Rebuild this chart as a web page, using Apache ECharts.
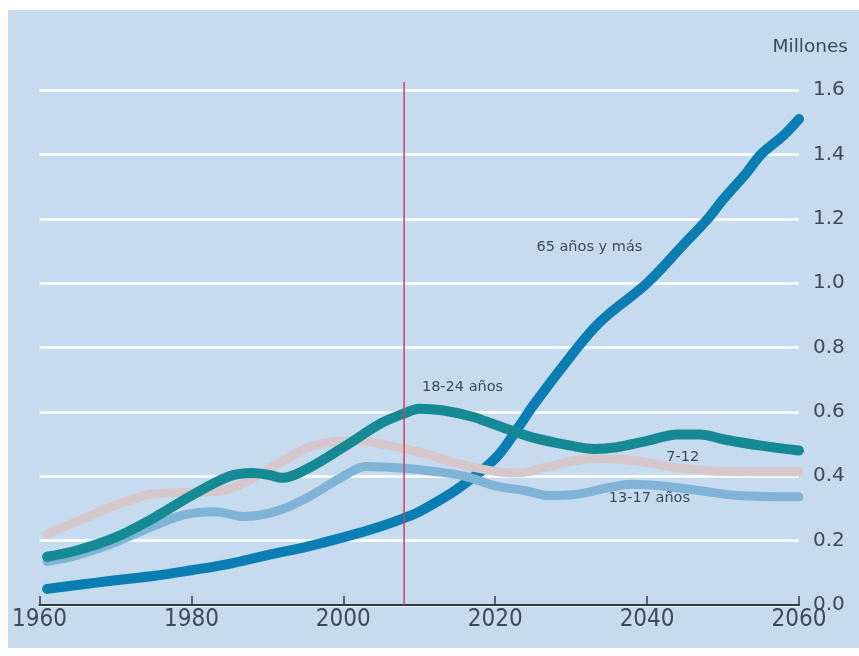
<!DOCTYPE html>
<html>
<head>
<meta charset="utf-8">
<script src="https://cdn.jsdelivr.net/npm/echarts@6/dist/echarts.min.js"></script>
<style>
html,body{margin:0;padding:0;background:#ffffff;}
#chart{width:859px;height:656px;}
</style>
</head>
<body>
<div id="chart"></div>
<script>
// Data (millions)
const xTicks = [1960, 1980, 2000, 2020, 2040, 2060];
const yTicks = [0.0, 0.2, 0.4, 0.6, 0.8, 1.0, 1.2, 1.4, 1.6];
const markerYear = 2008;
const markerTop = 1.625;

const years65 = [1961, 1965, 1970, 1975, 1980, 1985, 1990, 1995, 2000, 2005, 2008, 2010, 2015, 2020, 2023, 2025, 2030, 2033, 2035, 2040, 2045, 2048, 2050, 2053, 2055, 2058, 2060];
const vals65  = [0.05, 0.062, 0.077, 0.09, 0.108, 0.128, 0.155, 0.18, 0.21, 0.245, 0.27, 0.29, 0.36, 0.455, 0.55, 0.62, 0.775, 0.86, 0.905, 1.0, 1.125, 1.2, 1.26, 1.34, 1.40, 1.46, 1.51];

const years1824 = [1961, 1965, 1970, 1975, 1980, 1985, 1988, 1990, 1992, 1995, 2000, 2005, 2008, 2010, 2013, 2017, 2020, 2025, 2030, 2033, 2036, 2040, 2044, 2047, 2050, 2055, 2060];
const vals1824  = [0.15, 0.17, 0.21, 0.27, 0.34, 0.40, 0.41, 0.405, 0.395, 0.42, 0.49, 0.565, 0.595, 0.61, 0.605, 0.585, 0.56, 0.52, 0.495, 0.485, 0.49, 0.51, 0.53, 0.53, 0.515, 0.495, 0.48];

const years712 = [1961, 1965, 1970, 1975, 1980, 1985, 1990, 1995, 1998, 2002, 2006, 2010, 2015, 2020, 2023, 2027, 2033, 2038, 2043, 2047, 2050, 2060];
const vals712  = [0.22, 0.26, 0.31, 0.345, 0.35, 0.36, 0.42, 0.485, 0.505, 0.51, 0.495, 0.475, 0.44, 0.415, 0.41, 0.43, 0.455, 0.45, 0.43, 0.42, 0.415, 0.414];

const years1317 = [1961, 1965, 1970, 1975, 1979, 1983, 1987, 1991, 1995, 2000, 2003, 2008, 2012, 2016, 2020, 2024, 2027, 2031, 2035, 2038, 2042, 2047, 2052, 2060];
const vals1317  = [0.135, 0.155, 0.195, 0.245, 0.28, 0.29, 0.275, 0.29, 0.33, 0.40, 0.43, 0.425, 0.415, 0.40, 0.37, 0.355, 0.34, 0.345, 0.365, 0.375, 0.37, 0.355, 0.34, 0.336];

const names = ['65 años y más', '18-24 años', '7-12', '13-17 años'];
const labelPos = [[2032.4, 1.112], [2015.7, 0.677], [2044.7, 0.46], [2040.3, 0.332]];

function pairs(xs, ys){ return xs.map((x,i)=>[x, ys[i]]); }

const chart = echarts.init(document.getElementById('chart'), null, {renderer:'canvas'});
const txt = '#3b4b5b';
const font = "'DejaVu Sans', sans-serif";

function lineSeries(name, data, color, width, z, lp){
  return {
    name: name, type: 'line', data: data, smooth: 0.35, showSymbol: false,
    lineStyle: {color: color, width: width, cap: 'round', join: 'round'},
    z: z, silent: true, animation: false,
    markPoint: {
      symbol: 'circle', symbolSize: 0, silent: true, animation: false,
      data: [{coord: lp, value: name}],
      label: {show: true, position: 'inside', formatter: name, color: txt, fontSize: 14.5, fontFamily: font}
    }
  };
}

chart.setOption({
  backgroundColor: '#ffffff',
  animation: false,
  graphic: [
    {type: 'rect', z: -10, silent: true, shape: {x: 8, y: 10, width: 851, height: 638}, style: {fill: '#c6dcee'}},
    {type: 'text', z: 10, silent: true, style: {text: 'Millones', x: 848, y: 47, textAlign: 'right', textVerticalAlign: 'middle', fill: txt, font: "18.5px 'DejaVu Sans', sans-serif"}}
  ],
  grid: {left: 39.5, right: 60, top: 90, bottom: 51, containLabel: false},
  xAxis: {
    type: 'value', min: 1960, max: 2060, interval: 20,
    axisLine: {show: true, onZero: false, lineStyle: {color: '#2d3c4a', width: 2}},
    axisTick: {show: true, inside: true, length: 9, lineStyle: {color: '#2d3c4a', width: 1.5}},
    axisLabel: {color: txt, fontSize: 24, fontFamily: "'DejaVu Sans Condensed', 'Liberation Sans Narrow', 'DejaVu Sans', sans-serif", margin: 3, formatter: v => String(v)},
    splitLine: {show: false}
  },
  yAxis: {
    type: 'value', position: 'right', min: 0, max: 1.6, interval: 0.2,
    axisLine: {show: false}, axisTick: {show: false},
    axisLabel: {color: txt, fontSize: 20, fontFamily: font, margin: 14, formatter: v => v.toFixed(1)},
    splitLine: {show: true, lineStyle: {color: '#ffffff', width: 2.5}}
  },
  series: [
    lineSeries(names[0], pairs(years65, vals65), '#0a7db2', 10, 3, labelPos[0]),
    lineSeries(names[3], pairs(years1317, vals1317), '#80b3d6', 9, 4, labelPos[3]),
    lineSeries(names[2], pairs(years712, vals712), '#d6c7cc', 9, 5, labelPos[2]),
    lineSeries(names[1], pairs(years1824, vals1824), '#168a94', 10, 6, labelPos[1]),
    {
      type: 'line', silent: true, z: 7, clip: false, showSymbol: false, animation: false,
      data: [[markerYear, 0], [markerYear, markerTop]],
      lineStyle: {color: '#c8416a', width: 1.5}
    }
  ]
});
</script>
</body>
</html>
